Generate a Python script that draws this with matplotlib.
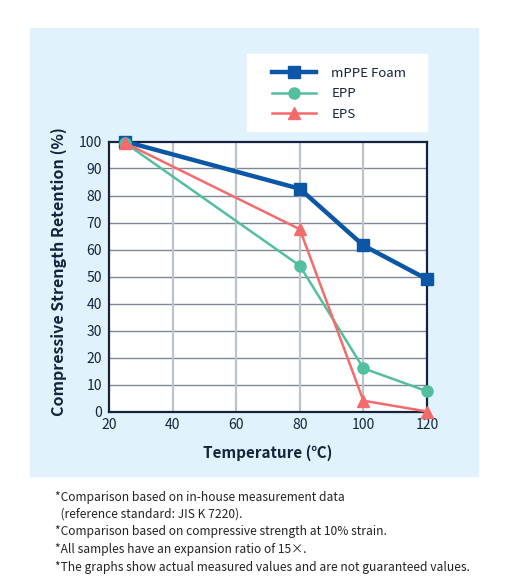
import matplotlib.pyplot as plt
from matplotlib.patches import Rectangle

plt.rcParams['font.family'] = ['Noto Sans CJK JP', 'DejaVu Sans']

temps = [25, 80, 100, 120]
mppe = [100, 82.5, 61.5, 49]
epp = [99.5, 54, 16, 7.5]
eps = [99.5, 67.5, 4, 0]
series_names = ['mPPE Foam', 'EPP', 'EPS']
xticks = [20, 40, 60, 80, 100, 120]
yticks = [0, 10, 20, 30, 40, 50, 60, 70, 80, 90, 100]
notes = [
    '*Comparison based on in-house measurement data',
    '  (reference standard: JIS K 7220).',
    '*Comparison based on compressive strength at 10% strain.',
    '*All samples have an expansion ratio of 15\u00d7.',
    '*The graphs show actual measured values and are not guaranteed values.',
]

navy = '#13243f'
W, H = 510, 586
fig = plt.figure(figsize=(W / 100, H / 100), dpi=100)

# light blue panel behind the chart, white box behind the legend
fig.patches.append(Rectangle((30 / W, 1 - 476 / H), 448 / W, 448 / H,
                             transform=fig.transFigure, color='#e2f2fc', zorder=-10))
fig.patches.append(Rectangle((247 / W, 1 - 131 / H), 180 / W, 77 / H,
                             transform=fig.transFigure, color='white', zorder=-9))

ax = fig.add_axes([109 / W, 1 - 411.5 / H, 318 / W, 270 / H])
ax.set_facecolor('white')

ax.plot(temps, mppe, color='#0b56a6', lw=3.2, marker='s', ms=9, clip_on=False, zorder=3, label=series_names[0])
ax.plot(temps, epp, color='#52bf9e', lw=1.8, marker='o', ms=8, clip_on=False, zorder=4, label=series_names[1])
ax.plot(temps, eps, color='#f56b6b', lw=1.8, marker='^', ms=8, clip_on=False, zorder=5, label=series_names[2])

ax.set_xlim(20, 120)
ax.set_ylim(0, 100)
ax.set_xticks(xticks)
ax.set_yticks(yticks)
for y in yticks[1:-1]:
    ax.axhline(y, color='#7d8896', lw=1.0, zorder=1)
for x in xticks[1:-1]:
    ax.axvline(x, color='#bcc3cb', lw=1.6, zorder=1)
ax.tick_params(length=0, labelsize=10, labelcolor=navy, pad=5)
for s in ax.spines.values():
    s.set_color(navy)
    s.set_linewidth(1.6)
    s.set_zorder(2)

ax.set_xlabel('Temperature (\u2103)', fontsize=11, fontweight='bold', color=navy, labelpad=9)
ax.set_ylabel('Compressive Strength Retention (%)', fontsize=11.5, fontweight='bold', color=navy)
ax.yaxis.set_label_coords(-0.133, 0.518)

leg = fig.legend(loc='upper left',
                 bbox_to_anchor=(272 / W, 1 - 67 / H), frameon=False, fontsize=9.5,
                 handlelength=3.3, handletextpad=1.2, borderpad=0, labelspacing=0.55,
                 borderaxespad=0)
for t in leg.get_texts():
    t.set_color(navy)

ys = [497, 514, 532, 549, 567]
for line, y in zip(notes, ys):
    fig.text(55 / W, 1 - y / H, line, fontsize=8.65, color='#222222', va='center')

fig.savefig('out.png', dpi=100)
